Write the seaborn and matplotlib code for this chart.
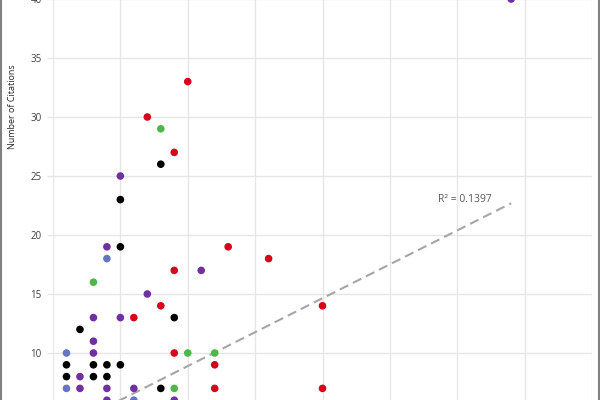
import matplotlib
matplotlib.use("Agg")
import matplotlib.pyplot as plt
from matplotlib.lines import Line2D
import pandas as pd
import seaborn as sns

# values (x has no visible labels in the crop)
red_x = [10, 7, 9, 13, 16, 9, 8, 20, 6, 9, 12, 12, 20]
red_y = [33, 30, 27, 19, 18, 17, 14, 14, 13, 10, 9, 7, 7]
green_x = [8, 3, 10, 12, 9]
green_y = [29, 16, 10, 10, 7]
black_x = [8, 5, 5, 9, 2, 1, 3, 4, 5, 1, 3, 4, 8]
black_y = [26, 23, 19, 13, 12, 9, 9, 9, 9, 8, 8, 8, 7]
purple_x = [34, 5, 4, 11, 7, 3, 5, 3, 3, 2, 2, 4, 6, 4, 9]
purple_y = [40, 25, 19, 17, 15, 13, 13, 11, 10, 8, 7, 7, 7, 6, 6]
blue_x = [4, 1, 1, 6]
blue_y = [18, 10, 7, 6]

y_ticks = [0, 5, 10, 15, 20, 25, 30, 35, 40]
y_ticklabels = ["", "", "10", "15", "20", "25", "30", "35", "40"]  # 0 and 5 fall outside the crop

trend_slope = 0.575
trend_intercept = 3.14
r_squared = 0.1397

colors = {"red": "#d9001b", "green": "#4cb848", "black": "#000000",
          "purple": "#7030a0", "blue": "#6674c4"}

frames = []
for name, xs, ys in [("red", red_x, red_y), ("green", green_x, green_y),
                     ("black", black_x, black_y), ("purple", purple_x, purple_y),
                     ("blue", blue_x, blue_y)]:
    frames.append(pd.DataFrame({"x": xs, "y": ys, "group": name}))
df = pd.concat(frames, ignore_index=True)

sns.set_theme(style="whitegrid")
plt.rcParams['font.family'] = ['Open Sans', 'DejaVu Sans']

fig = plt.figure(figsize=(6, 4), dpi=100)
ax = fig.add_axes([53 / 600, -71 / 400, 539 / 600, 472 / 400])

sns.scatterplot(data=df, x="x", y="y", hue="group", palette=colors,
                s=30, linewidth=0, legend=False, ax=ax, zorder=3)

# linear trendline
x0, x1 = df["x"].min(), df["x"].max()
ax.plot([x0, x1], [trend_intercept + trend_slope * x0, trend_intercept + trend_slope * x1],
        color="#a6a6a6", lw=1.5, dashes=(4.5, 2.5), zorder=2)
ax.text(28.6, 23, f"R² = {r_squared}", color="#595959", fontsize=7.5, va="center")

ax.set_xlim(0, 40)
ax.set_ylim(0, 40)
ax.set_xticks(range(0, 41, 5))
ax.set_yticks(y_ticks)
ax.set_yticklabels(y_ticklabels)
ax.set_xticklabels([])
ax.set_xlabel("")
ax.set_ylabel("Number of Citations", fontsize=6.5, color="#262626")
ax.yaxis.set_label_coords(-0.067, 0.773)
ax.grid(True, color="#e6e6e6", lw=1)
for s in ax.spines.values():
    s.set_visible(False)
ax.tick_params(axis="y", length=4.5, width=1, color="#e6e6e6", pad=3.5,
               labelsize=7, labelcolor="#404040", left=True)
ax.tick_params(axis="x", length=0)

# frame edges of the original image
fig.add_artist(Line2D([0.001, 0.001], [0, 1], color="#808080", lw=1.5))
fig.add_artist(Line2D([0.999, 0.999], [0, 1], color="#808080", lw=1.5))

fig.savefig("out.png", dpi=100)
